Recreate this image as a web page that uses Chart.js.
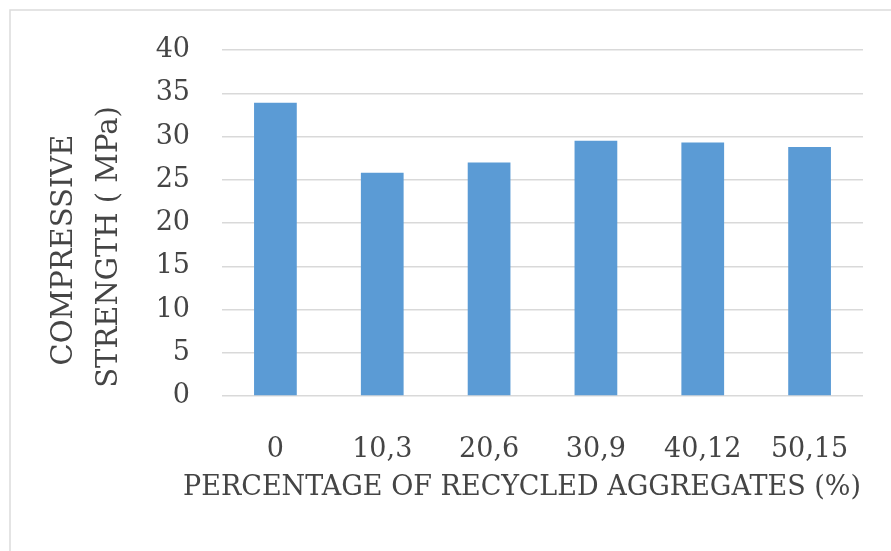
<!DOCTYPE html>
<html>
<head>
<meta charset="utf-8">
<script src="https://cdn.jsdelivr.net/npm/chart.js@4"></script>
<style>
  html, body { margin: 0; padding: 0; background: #fff; }
  #chart { display: block; }
</style>
</head>
<body>
<canvas id="chart" width="891" height="551"></canvas>
<script>
'use strict';

const categories = ['0', '10,3', '20,6', '30,9', '40,12', '50,15'];
const strengthValues = [33.9, 25.8, 27.0, 29.5, 29.3, 28.8];
const yTicks = [0, 5, 10, 15, 20, 25, 30, 35, 40];
const yTitle = ['COMPRESSIVE', 'STRENGTH ( MPa)'];
const xTitle = 'PERCENTAGE OF RECYCLED AGGREGATES (%)';

const textColor = '#454545';
const serif = 'DejaVu Serif';

// frame lines and both axis titles (the built-in title squeezes long text)
const framePlugin = {
  id: 'frame',
  beforeDraw(chart) {
    const ctx = chart.ctx;
    ctx.save();
    ctx.strokeStyle = '#dcdcdc';
    ctx.lineWidth = 1.5;
    ctx.beginPath();
    ctx.moveTo(10, 551);
    ctx.lineTo(10, 10);
    ctx.lineTo(891, 10);
    ctx.stroke();
    ctx.restore();
  },
  afterDraw(chart) {
    const ctx = chart.ctx;
    ctx.save();
    ctx.fillStyle = textColor;
    ctx.textAlign = 'center';
    ctx.textBaseline = 'middle';
    ctx.font = '27px "' + serif + '"';
    ctx.fillText(xTitle, 522, 488);
    ctx.translate(0, 250);
    ctx.rotate(-Math.PI / 2);
    ctx.font = '29px "' + serif + '"';
    ctx.fillText(yTitle[0], 0, 64);
    ctx.fillText(yTitle[1], 3, 109);
    ctx.restore();
  }
};

const canvasElem = document.getElementById('chart');

new Chart(canvasElem, {
  type: 'bar',
  data: {
    labels: categories,
    datasets: [{
      label: 'Compressive strength',
      data: strengthValues,
      backgroundColor: '#5b9bd5',
      borderWidth: 0,
      categoryPercentage: 1,
      barPercentage: 0.4
    }]
  },
  options: {
    responsive: false,
    animation: false,
    devicePixelRatio: 1,
    layout: { padding: { left: 10, top: 50, right: 28, bottom: 0 } },
    plugins: { legend: { display: false }, tooltip: { enabled: false } },
    scales: {
      x: {
        grid: { display: false },
        border: { display: false },
        ticks: { color: textColor, font: { family: serif, size: 27 }, padding: 30 },
        afterFit(scale) { scale.height = 551 - 396; }
      },
      y: {
        min: 0,
        max: 40,
        afterBuildTicks(scale) { scale.ticks = yTicks.map(v => ({ value: v })); },
        grid: { color: '#d9d9d9', lineWidth: 1.5, drawTicks: false },
        border: { display: false },
        ticks: { color: textColor, font: { family: serif, size: 27 }, padding: 32 },
        afterFit(scale) { scale.width = 212; }
      }
    }
  },
  plugins: [framePlugin]
});
</script>
</body>
</html>
